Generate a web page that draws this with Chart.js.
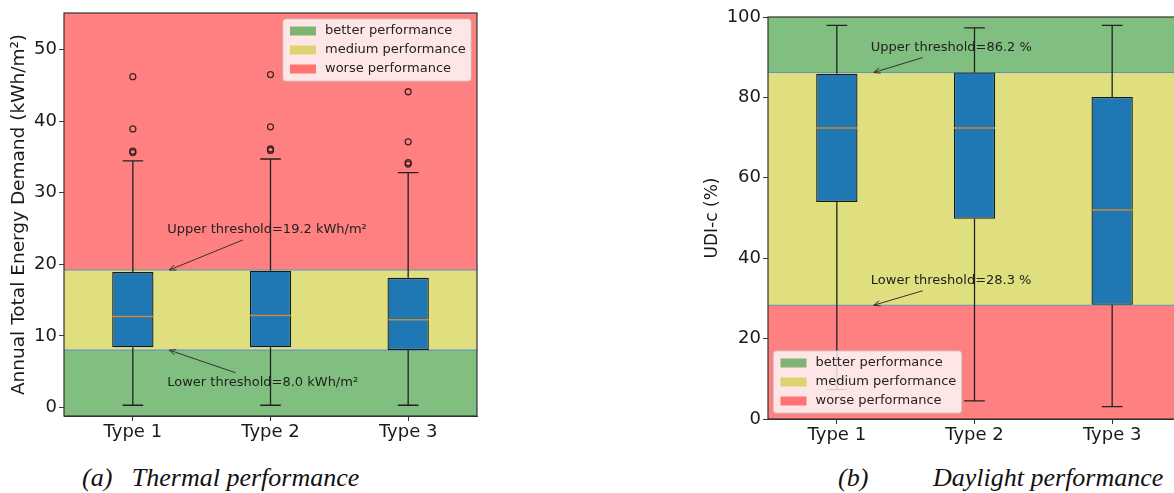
<!DOCTYPE html>
<html>
<head>
<meta charset="utf-8">
<script src="https://cdn.jsdelivr.net/npm/chart.js@4.4.1/dist/chart.umd.min.js"></script>
<style>
    html, body { margin: 0; padding: 0; background: #fff; width: 1174px; height: 493px; overflow: hidden; position: relative; }
    .chart-box { position: absolute; }
    .caption { position: absolute; font-family: 'Liberation Serif', 'Times New Roman', serif; font-style: italic; font-size: 26px; color: #111; white-space: nowrap; line-height: 1; }
</style>
</head>
<body>
<div class="chart-box" style="left:0; top:0; width:490px; height:448px;"><canvas id="thermal"></canvas></div>
<div class="chart-box" style="left:690px; top:0; width:500px; height:452px;"><canvas id="daylight"></canvas></div>
<div class="caption" style="left:82px; top:465px;">(a)&nbsp;&nbsp;&nbsp;Thermal performance</div>
<div class="caption" style="left:838px; top:465px;">(b)</div>
<div class="caption" style="left:933px; top:465px;">Daylight performance</div>

<script>
const types = ['Type 1', 'Type 2', 'Type 3'];
const legendLabels = ['better performance', 'medium performance', 'worse performance'];

// (a) annual total energy demand, kWh/m2
const thermalMin = [0.3, 0.3, 0.3];
const thermalQ1 = [8.4, 8.4, 8.0];
const thermalMedian = [12.7, 12.85, 12.25];
const thermalQ3 = [18.9, 19.1, 18.1];
const thermalMax = [34.45, 34.7, 32.8];
const thermalOutliers = [[35.6, 35.8, 38.9, 46.2], [35.9, 36.1, 39.2, 46.5], [34.0, 34.2, 37.1, 44.1]];
const thermalThresholds = [8.0, 19.2];
const thermalTicks = [0, 10, 20, 30, 40, 50];

// (b) UDI-c, %
const udiMin = [7.3, 4.5, 3.1];
const udiQ1 = [54.0, 49.8, 28.4];
const udiMedian = [72.4, 72.4, 52.0];
const udiQ3 = [85.9, 86.2, 80.1];
const udiMax = [97.9, 97.3, 97.9];
const udiOutliers = [[], [], []];
const udiThresholds = [28.3, 86.2];
const udiTicks = [0, 20, 40, 60, 80, 100];

const GREEN = '#80bf80', YELLOW = '#dfdf80', RED = '#ff8080';
const PATCH = ['#80b272', '#dfd273', '#ff7373'];
const FONT = "'DejaVu Sans', sans-serif";

function arrow(ctx, x1, y1, x2, y2) {
    ctx.beginPath();
    ctx.moveTo(x1, y1);
    ctx.lineTo(x2, y2);
    const ang = Math.atan2(y2 - y1, x2 - x1);
    for (const s of [-1, 1]) {
        ctx.moveTo(x2, y2);
        ctx.lineTo(x2 - 7 * Math.cos(ang + s * 0.4), y2 - 7 * Math.sin(ang + s * 0.4));
    }
    ctx.stroke();
}

function drawLegend(ctx, x0, y0) {
    ctx.save();
    ctx.fillStyle = 'rgba(255,255,255,0.8)';
    ctx.strokeStyle = 'rgba(204,204,204,0.9)';
    ctx.lineWidth = 1;
    ctx.beginPath();
    ctx.roundRect(x0, y0, 188, 62, 3);
    ctx.fill();
    ctx.stroke();
    ctx.font = '13px ' + FONT;
    ctx.textBaseline = 'middle';
    legendLabels.forEach((t, i) => {
        const cy = y0 + 12 + i * 19;
        ctx.fillStyle = PATCH[i];
        ctx.fillRect(x0 + 7, cy - 4.5, 26, 9);
        ctx.fillStyle = '#222';
        ctx.fillText(t, x0 + 42, cy);
    });
    ctx.restore();
}

// box plot + bands, everything positioned through the chart's own scales
function boxPlugin(cfg) {
    return {
        id: 'box-' + cfg.id,
        beforeDatasetsDraw(chart) {
            const { ctx, chartArea: a, scales: { x, y } } = chart;
            const yLo = y.getPixelForValue(cfg.thresholds[0]);
            const yHi = y.getPixelForValue(cfg.thresholds[1]);
            ctx.save();
            ctx.fillStyle = cfg.top; ctx.fillRect(a.left, a.top, a.width, yHi - a.top);
            ctx.fillStyle = YELLOW; ctx.fillRect(a.left, yHi, a.width, yLo - yHi);
            ctx.fillStyle = cfg.bottom; ctx.fillRect(a.left, yLo, a.width, a.bottom - yLo);
            ctx.strokeStyle = '#5f93c6';
            ctx.lineWidth = 1.2;
            for (const py of [yLo, yHi]) {
                ctx.beginPath(); ctx.moveTo(a.left, py); ctx.lineTo(a.right, py); ctx.stroke();
            }
            // whiskers
            const step = x.getPixelForValue(1) - x.getPixelForValue(0);
            ctx.strokeStyle = '#222';
            ctx.lineWidth = 1.3;
            types.forEach((t, i) => {
                const px = x.getPixelForValue(i);
                const cap = step * 0.075;
                ctx.beginPath();
                ctx.moveTo(px, y.getPixelForValue(cfg.min[i])); ctx.lineTo(px, y.getPixelForValue(cfg.q1[i]));
                ctx.moveTo(px, y.getPixelForValue(cfg.q3[i])); ctx.lineTo(px, y.getPixelForValue(cfg.max[i]));
                ctx.moveTo(px - cap, y.getPixelForValue(cfg.min[i])); ctx.lineTo(px + cap, y.getPixelForValue(cfg.min[i]));
                ctx.moveTo(px - cap, y.getPixelForValue(cfg.max[i])); ctx.lineTo(px + cap, y.getPixelForValue(cfg.max[i]));
                ctx.stroke();
            });
            ctx.restore();
        },
        afterDatasetsDraw(chart) {
            const { ctx, chartArea: a, scales: { x, y } } = chart;
            const bars = chart.getDatasetMeta(0).data;
            ctx.save();
            // medians
            ctx.strokeStyle = '#c8893a';
            ctx.lineWidth = 1.5;
            bars.forEach((b, i) => {
                const py = y.getPixelForValue(cfg.median[i]);
                ctx.beginPath(); ctx.moveTo(b.x - b.width / 2, py); ctx.lineTo(b.x + b.width / 2, py); ctx.stroke();
            });
            // threshold notes
            ctx.font = '13px ' + FONT;
            ctx.textBaseline = 'middle';
            ctx.fillStyle = '#222';
            ctx.strokeStyle = '#333';
            ctx.lineWidth = 1;
            cfg.notes.forEach(n => {
                ctx.fillText(n.text, x.getPixelForValue(n.tx), y.getPixelForValue(n.ty));
                arrow(ctx, x.getPixelForValue(n.fx), y.getPixelForValue(n.fy), x.getPixelForValue(n.ax), y.getPixelForValue(n.ay));
            });
            // legend
            if (cfg.legend === 'top-right') drawLegend(ctx, a.right - 194, a.top + 6);
            else drawLegend(ctx, a.left + 5.5, a.bottom - 68);
            // spines
            ctx.strokeStyle = '#333';
            ctx.lineWidth = 1.2;
            ctx.strokeRect(a.left, a.top, a.width, a.height);
            ctx.restore();
        }
    };
}

function makeChart(id, cfg) {
    const outliers = [];
    cfg.outliers.forEach((list, i) => list.forEach(v => outliers.push({ x: types[i], y: v })));
    return new Chart(document.getElementById(id), {
        type: 'bar',
        data: {
            labels: types,
            datasets: [
                {
                    data: cfg.q1.map((v, i) => [v, cfg.q3[i]]),
                    backgroundColor: '#1f77b4',
                    borderColor: '#1a1a1a',
                    borderWidth: 1.3,
                    borderSkipped: false,
                    barPercentage: 0.3,
                    categoryPercentage: 1.0,
                },
                {
                    type: 'line',
                    data: outliers,
                    showLine: false,
                    pointStyle: 'circle',
                    pointRadius: 3,
                    pointBackgroundColor: 'rgba(0,0,0,0)',
                    pointBorderColor: 'rgba(40,20,20,0.85)',
                    pointBorderWidth: 1.3,
                }
            ]
        },
        options: {
            responsive: true,
            maintainAspectRatio: false,
            animation: false,
            layout: { padding: cfg.padding },
            plugins: { legend: { display: false }, tooltip: { enabled: false } },
            scales: {
                x: {
                    grid: { drawOnChartArea: false, offset: false, tickLength: 5, color: '#333' },
                    border: { color: '#333' },
                    ticks: { color: '#1a1a1a', font: { family: FONT, size: 18 }, padding: 1 },
                    afterFit: s => { s.height = cfg.xHeight; }
                },
                y: {
                    min: cfg.yMin,
                    max: cfg.yMax,
                    afterBuildTicks: s => { s.ticks = cfg.ticks.map(v => ({ value: v })); },
                    grid: { drawOnChartArea: false, tickLength: 5, color: '#333' },
                    border: { color: '#333' },
                    ticks: { color: '#1a1a1a', font: { family: FONT, size: 18 }, padding: 2 },
                    title: { display: true, text: cfg.title, color: '#1a1a1a', font: { family: FONT, size: cfg.titleSize }, padding: { top: cfg.titlePad, bottom: 0 } },
                    afterFit: s => { s.width = cfg.yWidth; }
                }
            }
        },
        plugins: [boxPlugin(cfg)]
    });
}

makeChart('thermal', {
    id: 'thermal',
    min: thermalMin, q1: thermalQ1, median: thermalMedian, q3: thermalQ3, max: thermalMax,
    outliers: thermalOutliers, thresholds: thermalThresholds, ticks: thermalTicks,
    yMin: -1.2, yMax: 55.1,
    top: RED, bottom: GREEN, legend: 'top-right',
    title: 'Annual Total Energy Demand (kWh/m²)', titlePad: 8, titleSize: 18.5,
    padding: { top: 13, right: 13, left: 0, bottom: 0 }, yWidth: 64, xHeight: 32,
    notes: [
        { text: `Upper threshold=${thermalThresholds[1].toFixed(1)} kWh/m²`, tx: 0.25, ty: 24.8, fx: 0.8, fy: 23.4, ax: 0.265, ay: thermalThresholds[1] },
        { text: `Lower threshold=${thermalThresholds[0].toFixed(1)} kWh/m²`, tx: 0.25, ty: 3.5, fx: 0.745, fy: 4.85, ax: 0.265, ay: thermalThresholds[0] }
    ]
});

makeChart('daylight', {
    id: 'daylight',
    min: udiMin, q1: udiQ1, median: udiMedian, q3: udiQ3, max: udiMax,
    outliers: udiOutliers, thresholds: udiThresholds, ticks: udiTicks,
    yMin: 0, yMax: 100,
    top: GREEN, bottom: RED, legend: 'bottom-left',
    title: 'UDI-c (%)', titlePad: 12, titleSize: 17,
    padding: { top: 17, right: 9, left: 0, bottom: 0 }, yWidth: 78, xHeight: 33,
    notes: [
        { text: `Upper threshold=${udiThresholds[1].toFixed(1)} %`, tx: 0.247, ty: 92.3, fx: 0.624, fy: 89.9, ax: 0.268, ay: udiThresholds[1] },
        { text: `Lower threshold=${udiThresholds[0].toFixed(1)} %`, tx: 0.247, ty: 34.35, fx: 0.624, fy: 31.9, ax: 0.268, ay: udiThresholds[0] }
    ]
});
</script>
</body>
</html>
